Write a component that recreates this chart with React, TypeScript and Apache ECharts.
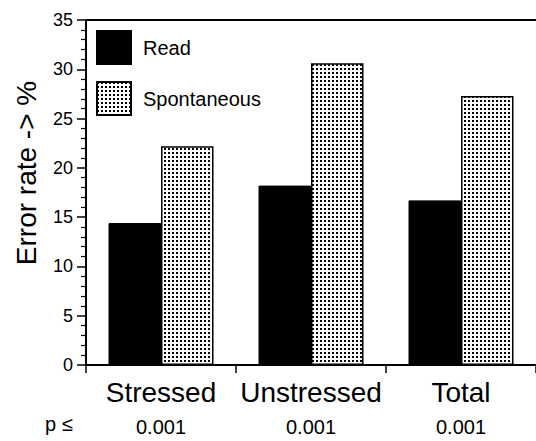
import React, { useEffect, useRef } from "react";
import * as echarts from "echarts";

const categories = ["Stressed", "Unstressed", "Total"];
const readValues = [14.4, 18.2, 16.7];
const spontaneousValues = [22.2, 30.6, 27.3];
const pValues = ["0.001", "0.001", "0.001"];
const yTicks = { min: 0, max: 35, interval: 5 };

const FONT = "Liberation Sans, Arial, sans-serif";

function makePattern() {
  const c = document.createElement("canvas");
  c.width = 4;
  c.height = 4;
  const ctx = c.getContext("2d")!;
  ctx.fillStyle = "#ffffff";
  ctx.fillRect(0, 0, 4, 4);
  ctx.fillStyle = "#000000";
  ctx.fillRect(0, 0, 2, 2);
  return { image: c, repeat: "repeat", imageWidth: 4, imageHeight: 4 } as any;
}

export default function App() {
  const ref = useRef<HTMLDivElement>(null);
  useEffect(() => {
    if (!ref.current) return;
    const chart = echarts.init(ref.current, null, { renderer: "svg" });
    const pattern = makePattern();
    chart.setOption({
      animation: false,
      textStyle: { fontFamily: FONT },
      grid: { left: 86, top: 20, right: 0, bottom: 76, containLabel: false },
      legend: {
        orient: "vertical",
        left: 96,
        top: 30,
        padding: 0,
        itemWidth: 34,
        itemHeight: 33,
        itemGap: 16,
        icon: "rect",
        textStyle: { fontSize: 20, color: "#000", fontFamily: FONT, padding: [0, 0, 0, 7] },
        data: ["Read", "Spontaneous"],
      },
      xAxis: [
        {
          type: "category",
          data: categories,
          axisLine: { lineStyle: { color: "#000", width: 2 } },
          axisTick: { show: true, length: 8, lineStyle: { color: "#000", width: 1.5 } },
          axisLabel: {
            margin: 11,
            color: "#000",
            formatter: (v: string, i: number) => `{c|${v}}\n{p|${pValues[i]}}`,
            rich: {
              c: { fontSize: 28, lineHeight: 32, fontFamily: FONT, color: "#000" },
              p: { fontSize: 20, lineHeight: 38, fontFamily: FONT, color: "#000" },
            },
          },
        },
        {
          type: "category",
          position: "top",
          data: categories,
          axisLine: { show: true, lineStyle: { color: "#000", width: 2 } },
          axisTick: { show: false },
          axisLabel: { show: false },
        },
      ],
      yAxis: {
        type: "value",
        min: yTicks.min,
        max: yTicks.max,
        interval: yTicks.interval,
        axisLine: { show: true, lineStyle: { color: "#000", width: 2 } },
        axisTick: { show: true, length: 9, lineStyle: { color: "#000", width: 1.5 } },
        minorTick: { show: true, splitNumber: 5, length: 5, lineStyle: { color: "#000", width: 1.2 } },
        splitLine: { show: false },
        axisLabel: { fontSize: 18, color: "#000", margin: 13, fontFamily: FONT },
      },
      graphic: [
        {
          type: "text",
          x: 26,
          y: 173,
          rotation: Math.PI / 2,
          style: {
            text: "Error rate -> %",
            fontSize: 28,
            fontFamily: FONT,
            fill: "#000",
            align: "center",
            verticalAlign: "middle",
          },
        },
        {
          type: "text",
          left: 45,
          top: 414,
          style: { text: "p \u2264", fontSize: 20, fontFamily: FONT, fill: "#000" },
        },
      ],
      series: [
        {
          name: "Read",
          type: "bar",
          data: readValues,
          barGap: "0%",
          barCategoryGap: "30%",
          itemStyle: { color: "#000", borderColor: "#000", borderWidth: 1 },
        },
        {
          name: "Spontaneous",
          type: "bar",
          data: spontaneousValues,
          itemStyle: { color: pattern, borderColor: "#000", borderWidth: 1.5 },
        },
      ],
    });
    return () => chart.dispose();
  }, []);
  return <div ref={ref} style={{ width: 536, height: 441, position: "absolute", left: 0, top: 0 }} />;
}
